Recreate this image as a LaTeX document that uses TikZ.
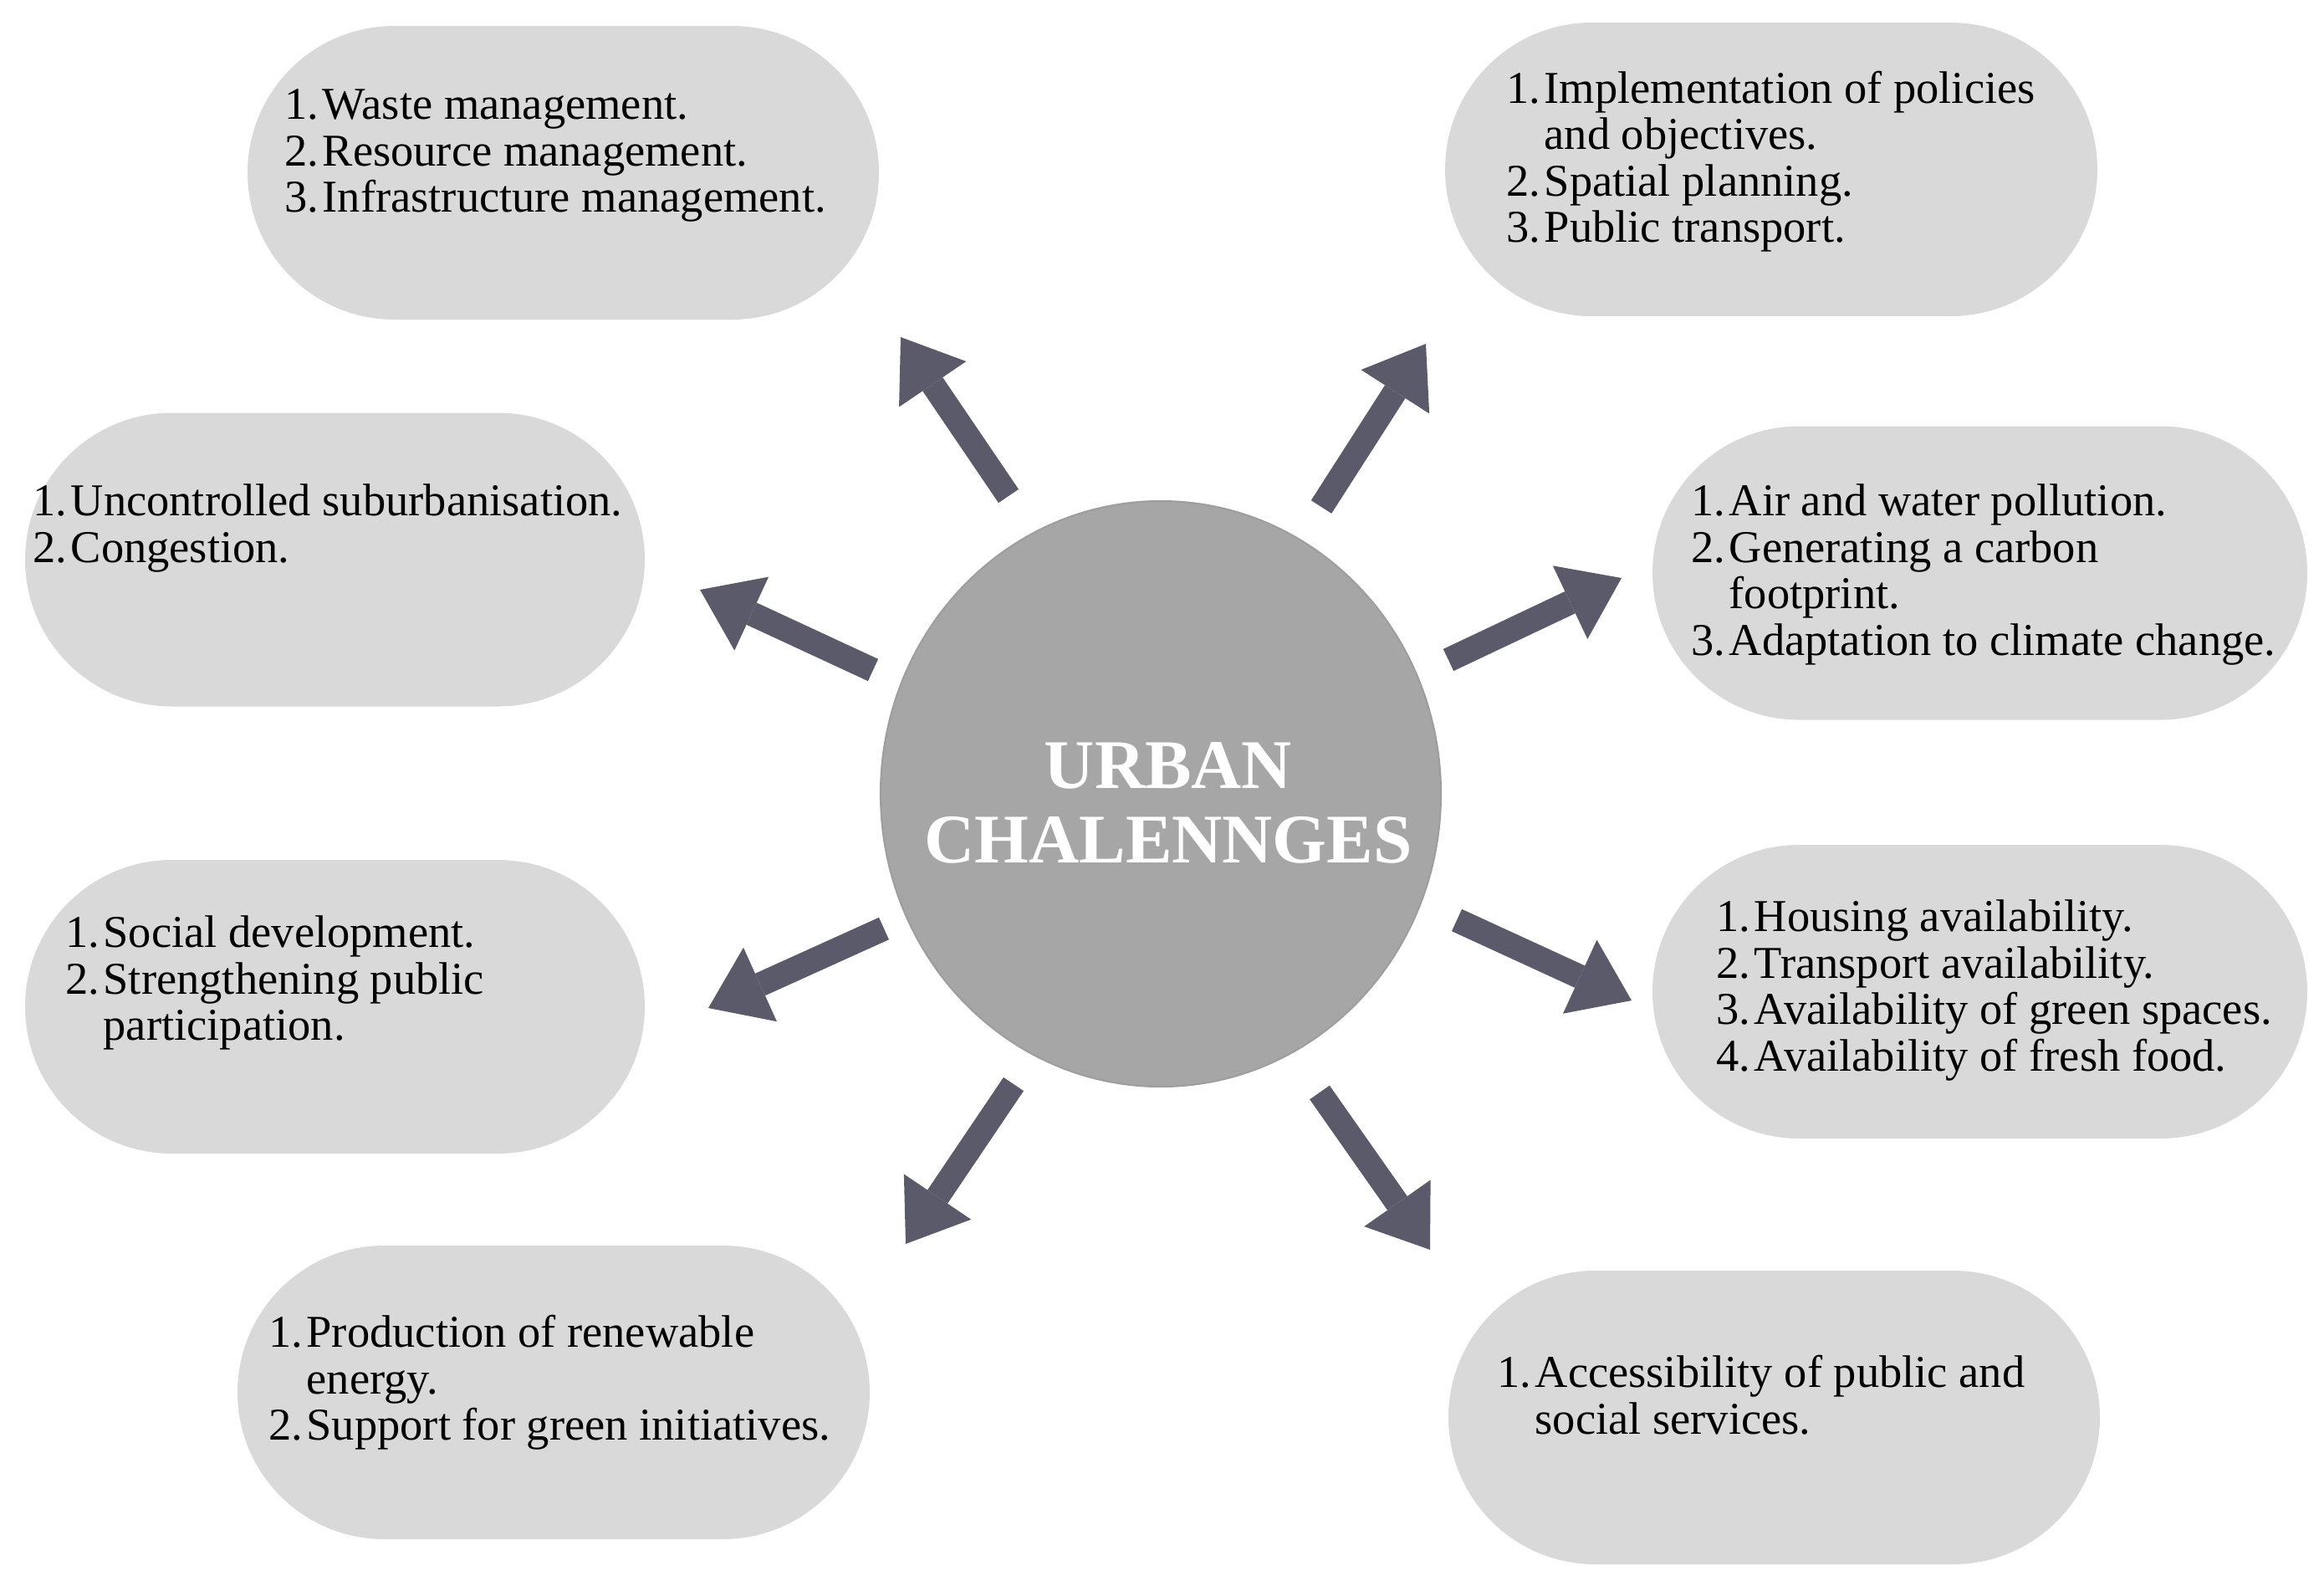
\documentclass[tikz,border=0pt]{standalone}
\usepackage{fontspec}
\setmainfont{Liberation Serif}
\usetikzlibrary{shapes.geometric,shapes.misc,arrows.meta}

\definecolor{boxgray}{HTML}{D9D9D9}
\definecolor{hubgray}{HTML}{A6A6A6}
\definecolor{arrowgray}{HTML}{5A5A6A}

\newlength\numw
\setlength\numw{0.45cm}
\newcommand\litem[2]{\makebox[\numw][l]{#1}#2}
\newcommand\cont[1]{\hspace*{\numw}#1}

\begin{document}
\begin{tikzpicture}[
	box/.style={rounded rectangle, fill=boxgray, minimum height=3.51cm, inner sep=0pt},
	txt/.style={anchor=west, align=left, inner sep=0pt, font=\fontsize{15.5}{15.8}\selectfont},
	hub/.style={ellipse, fill=hubgray, draw=black!38, line width=0.6pt, minimum width=6.7cm, minimum height=7cm, inner sep=0pt},
	hubtxt/.style={text=white, align=center, inner sep=0pt, font=\bfseries\fontsize{23.7}{25.3}\selectfont},
	bigarrow/.style={arrowgray, line width=2.9mm, -{Triangle[length=6.8mm,width=9.7mm,line width=0pt]}}
]

	\useasboundingbox (0,0) rectangle (27.79,-18.95);

	% centre
	\node[hub] (hub) at (13.88,-9.49) {};
	\node[hubtxt] (hub-t) at ([xshift=0.09cm,yshift=-0.11cm]hub.center) {URBAN\\CHALENNGES};

	% left column
	\node[box, minimum width=7.55cm] (waste) at (6.735,-2.065) {};
	\node[txt] (waste-t) at (3.40,-1.86)
		{\litem{1.}{Waste management.}\\\litem{2.}{Resource management.}\\\litem{3.}{Infrastructure management.}};

	\node[box, minimum width=7.41cm] (sprawl) at (4.005,-6.69) {};
	\node[txt] (sprawl-t) at (0.39,-6.315)
		{\litem{1.}{Uncontrolled suburbanisation.}\\\litem{2.}{Congestion.}};

	\node[box, minimum width=7.41cm] (social) at (4.005,-12.035) {};
	\node[txt] (social-t) at (0.78,-11.75)
		{\litem{1.}{Social development.}\\\litem{2.}{Strengthening public}\\\cont{participation.}};

	\node[box, minimum width=7.56cm] (energy) at (6.62,-16.645) {};
	\node[txt] (energy-t) at (3.21,-16.53)
		{\litem{1.}{Production of renewable}\\\cont{energy.}\\\litem{2.}{Support for green initiatives.}};

	% right column
	\node[box, minimum width=7.80cm] (policy) at (21.18,-2.025) {};
	\node[txt] (policy-t) at (18.01,-1.93)
		{\litem{1.}{Implementation of policies}\\\cont{and objectives.}\\\litem{2.}{Spatial planning.}\\\litem{3.}{Public transport.}};

	\node[box, minimum width=7.83cm] (climate) at (23.675,-6.85) {};
	\node[txt] (climate-t) at (20.22,-6.87)
		{\litem{1.}{Air and water pollution.}\\\litem{2.}{Generating a carbon}\\\cont{footprint.}\\\litem{3.}{Adaptation to climate change.}};

	\node[box, minimum width=7.83cm] (housing) at (23.675,-11.855) {};
	\node[txt] (housing-t) at (20.52,-11.84)
		{\litem{1.}{Housing availability.}\\\litem{2.}{Transport availability.}\\\litem{3.}{Availability of green spaces.}\\\litem{4.}{Availability of fresh food.}};

	\node[box, minimum width=7.79cm] (services) at (21.215,-16.945) {};
	\node[txt] (services-t) at (17.90,-16.675)
		{\litem{1.}{Accessibility of public and}\\\cont{social services.}};

	% arrows
	\foreach \s/\e [count=\i] in {{12.06,-5.93}/{10.77,-4.03}, {15.80,-6.06}/{17.05,-4.11},
		{10.44,-8.01}/{8.37,-7.05}, {17.32,-7.89}/{19.39,-6.91},
		{10.57,-11.10}/{8.47,-12.05}, {17.42,-11.00}/{19.51,-11.96},
		{12.12,-12.96}/{10.83,-14.87}, {15.78,-13.06}/{17.10,-14.94}}
{
	\coordinate (tail\i) at (\s);
	\coordinate (tip\i) at (\e);
	\draw[bigarrow] (tail\i) -- (tip\i);
}

\end{tikzpicture}
\end{document}
